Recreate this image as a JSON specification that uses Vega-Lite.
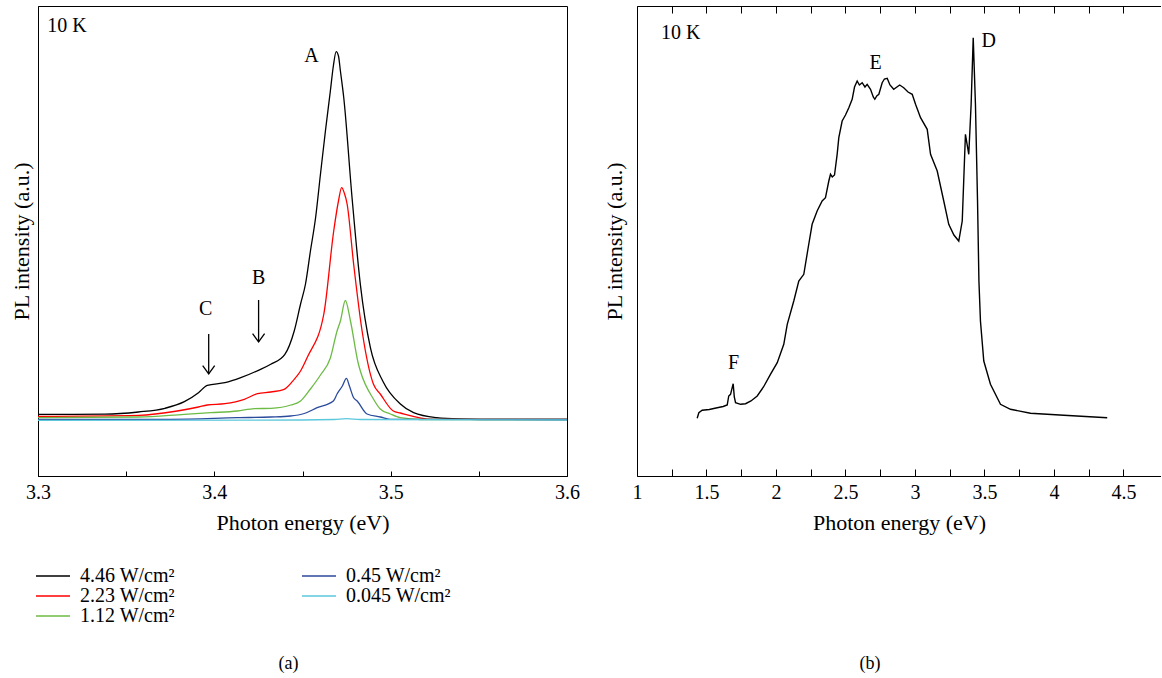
{
  "$schema": "https://vega.github.io/schema/vega-lite/v6.json",
  "padding": {"left": 9, "top": 5, "right": 0, "bottom": 0},
  "background": "white",
  "config": {
    "font": "Liberation Serif",
    "view": {"stroke": "#000000", "strokeWidth": 1, "strokeOpacity": 1},
    "axis": {"grid": false, "domainColor": "#000000", "domainWidth": 1, "domainOpacity": 1, "tickColor": "#000000", "tickWidth": 1, "labelColor": "black", "titleColor": "black", "labelFont": "Liberation Serif", "titleFont": "Liberation Serif", "titleFontWeight": "normal", "labelFontSize": 20, "titleFontSize": 22},
    "legend": {"labelFont": "Liberation Serif", "labelFontSize": 20, "labelColor": "black"},
    "title": {"font": "Liberation Serif", "fontWeight": "normal", "fontSize": 18, "color": "black"}
  },
  "datasets": {
    "a": [
      {"p": "4.46 W/cm²", "E": 3.300, "I": 62.7}, {"p": "4.46 W/cm²", "E": 3.320, "I": 62.7}, {"p": "4.46 W/cm²", "E": 3.338, "I": 62.8}, {"p": "4.46 W/cm²", "E": 3.357, "I": 65.0}, {"p": "4.46 W/cm²", "E": 3.372, "I": 68.7}, {"p": "4.46 W/cm²", "E": 3.383, "I": 75.3}, {"p": "4.46 W/cm²", "E": 3.391, "I": 84.3}, {"p": "4.46 W/cm²", "E": 3.396, "I": 91.7}, {"p": "4.46 W/cm²", "E": 3.406, "I": 94.3}, {"p": "4.46 W/cm²", "E": 3.415, "I": 99.3}, {"p": "4.46 W/cm²", "E": 3.425, "I": 106.7}, {"p": "4.46 W/cm²", "E": 3.432, "I": 112.7}, {"p": "4.46 W/cm²", "E": 3.440, "I": 122.7}, {"p": "4.46 W/cm²", "E": 3.4453, "I": 146}, {"p": "4.46 W/cm²", "E": 3.4489, "I": 173}, {"p": "4.46 W/cm²", "E": 3.4517, "I": 193}, {"p": "4.46 W/cm²", "E": 3.4545, "I": 226}, {"p": "4.46 W/cm²", "E": 3.4574, "I": 259}, {"p": "4.46 W/cm²", "E": 3.4602, "I": 303}, {"p": "4.46 W/cm²", "E": 3.4630, "I": 346}, {"p": "4.46 W/cm²", "E": 3.4658, "I": 386}, {"p": "4.46 W/cm²", "E": 3.4675, "I": 411}, {"p": "4.46 W/cm²", "E": 3.4691, "I": 425.3}, {"p": "4.46 W/cm²", "E": 3.4704, "I": 421}, {"p": "4.46 W/cm²", "E": 3.4715, "I": 406}, {"p": "4.46 W/cm²", "E": 3.4734, "I": 379.3}, {"p": "4.46 W/cm²", "E": 3.4781, "I": 279.3}, {"p": "4.46 W/cm²", "E": 3.4828, "I": 192.7}, {"p": "4.46 W/cm²", "E": 3.4885, "I": 129.3}, {"p": "4.46 W/cm²", "E": 3.4958, "I": 95}, {"p": "4.46 W/cm²", "E": 3.5055, "I": 73}, {"p": "4.46 W/cm²", "E": 3.513, "I": 64.3}, {"p": "4.46 W/cm²", "E": 3.526, "I": 59.3}, {"p": "4.46 W/cm²", "E": 3.539, "I": 58}, {"p": "4.46 W/cm²", "E": 3.562, "I": 57.5}, {"p": "4.46 W/cm²", "E": 3.600, "I": 57.5},
      {"p": "2.23 W/cm²", "E": 3.300, "I": 60.7}, {"p": "2.23 W/cm²", "E": 3.357, "I": 61.7}, {"p": "2.23 W/cm²", "E": 3.379, "I": 66}, {"p": "2.23 W/cm²", "E": 3.391, "I": 70}, {"p": "2.23 W/cm²", "E": 3.396, "I": 72}, {"p": "2.23 W/cm²", "E": 3.406, "I": 73.3}, {"p": "2.23 W/cm²", "E": 3.417, "I": 77.7}, {"p": "2.23 W/cm²", "E": 3.4245, "I": 83.3}, {"p": "2.23 W/cm²", "E": 3.432, "I": 85}, {"p": "2.23 W/cm²", "E": 3.4396, "I": 87.7}, {"p": "2.23 W/cm²", "E": 3.4453, "I": 97.7}, {"p": "2.23 W/cm²", "E": 3.4489, "I": 106}, {"p": "2.23 W/cm²", "E": 3.4528, "I": 120}, {"p": "2.23 W/cm²", "E": 3.4621, "I": 163}, {"p": "2.23 W/cm²", "E": 3.4677, "I": 246}, {"p": "2.23 W/cm²", "E": 3.4704, "I": 276}, {"p": "2.23 W/cm²", "E": 3.4722, "I": 289.3}, {"p": "2.23 W/cm²", "E": 3.4737, "I": 284}, {"p": "2.23 W/cm²", "E": 3.4753, "I": 273}, {"p": "2.23 W/cm²", "E": 3.479, "I": 213}, {"p": "2.23 W/cm²", "E": 3.4838, "I": 146}, {"p": "2.23 W/cm²", "E": 3.4902, "I": 93}, {"p": "2.23 W/cm²", "E": 3.4941, "I": 83}, {"p": "2.23 W/cm²", "E": 3.5015, "I": 66}, {"p": "2.23 W/cm²", "E": 3.5055, "I": 64}, {"p": "2.23 W/cm²", "E": 3.524, "I": 57.7}, {"p": "2.23 W/cm²", "E": 3.600, "I": 57.5},
      {"p": "1.12 W/cm²", "E": 3.300, "I": 59.3}, {"p": "1.12 W/cm²", "E": 3.357, "I": 60}, {"p": "1.12 W/cm²", "E": 3.383, "I": 62.7}, {"p": "1.12 W/cm²", "E": 3.398, "I": 64.3}, {"p": "1.12 W/cm²", "E": 3.413, "I": 66}, {"p": "1.12 W/cm²", "E": 3.4227, "I": 68.3}, {"p": "1.12 W/cm²", "E": 3.4321, "I": 68.7}, {"p": "1.12 W/cm²", "E": 3.4434, "I": 72}, {"p": "1.12 W/cm²", "E": 3.4489, "I": 76}, {"p": "1.12 W/cm²", "E": 3.4545, "I": 88}, {"p": "1.12 W/cm²", "E": 3.4602, "I": 102}, {"p": "1.12 W/cm²", "E": 3.4658, "I": 119}, {"p": "1.12 W/cm²", "E": 3.4696, "I": 146}, {"p": "1.12 W/cm²", "E": 3.4715, "I": 156}, {"p": "1.12 W/cm²", "E": 3.4743, "I": 176.5}, {"p": "1.12 W/cm²", "E": 3.4772, "I": 156}, {"p": "1.12 W/cm²", "E": 3.4817, "I": 113}, {"p": "1.12 W/cm²", "E": 3.4828, "I": 106}, {"p": "1.12 W/cm²", "E": 3.4902, "I": 78}, {"p": "1.12 W/cm²", "E": 3.4941, "I": 68}, {"p": "1.12 W/cm²", "E": 3.4998, "I": 63}, {"p": "1.12 W/cm²", "E": 3.5055, "I": 59.3}, {"p": "1.12 W/cm²", "E": 3.517, "I": 57.5}, {"p": "1.12 W/cm²", "E": 3.600, "I": 57.5},
      {"p": "0.45 W/cm²", "E": 3.300, "I": 57.7}, {"p": "0.45 W/cm²", "E": 3.3755, "I": 57.7}, {"p": "0.45 W/cm²", "E": 3.4132, "I": 59.3}, {"p": "0.45 W/cm²", "E": 3.432, "I": 60}, {"p": "0.45 W/cm²", "E": 3.4432, "I": 61}, {"p": "0.45 W/cm²", "E": 3.451, "I": 63.5}, {"p": "0.45 W/cm²", "E": 3.4583, "I": 69.3}, {"p": "0.45 W/cm²", "E": 3.4675, "I": 76}, {"p": "0.45 W/cm²", "E": 3.4696, "I": 83}, {"p": "0.45 W/cm²", "E": 3.4726, "I": 91}, {"p": "0.45 W/cm²", "E": 3.4749, "I": 98.7}, {"p": "0.45 W/cm²", "E": 3.4766, "I": 91}, {"p": "0.45 W/cm²", "E": 3.479, "I": 79.3}, {"p": "0.45 W/cm²", "E": 3.481, "I": 76}, {"p": "0.45 W/cm²", "E": 3.4866, "I": 63}, {"p": "0.45 W/cm²", "E": 3.4941, "I": 60}, {"p": "0.45 W/cm²", "E": 3.4998, "I": 57.7}, {"p": "0.45 W/cm²", "E": 3.600, "I": 57.5},
      {"p": "0.045 W/cm²", "E": 3.300, "I": 56.7}, {"p": "0.045 W/cm²", "E": 3.449, "I": 57}, {"p": "0.045 W/cm²", "E": 3.468, "I": 57.5}, {"p": "0.045 W/cm²", "E": 3.4749, "I": 58.3}, {"p": "0.045 W/cm²", "E": 3.4828, "I": 57.5}, {"p": "0.045 W/cm²", "E": 3.600, "I": 57}
    ],
    "b": [
      {"E": 1.433, "I": 58.7}, {"E": 1.445, "I": 64.3}, {"E": 1.469, "I": 66.7}, {"E": 1.52, "I": 67.5}, {"E": 1.577, "I": 69.3}, {"E": 1.62, "I": 70.5}, {"E": 1.649, "I": 72}, {"E": 1.660, "I": 81}, {"E": 1.673, "I": 82.7}, {"E": 1.692, "I": 93.3}, {"E": 1.700, "I": 80}, {"E": 1.709, "I": 74.3}, {"E": 1.745, "I": 72.7}, {"E": 1.781, "I": 73.3}, {"E": 1.82, "I": 76}, {"E": 1.865, "I": 81}, {"E": 1.91, "I": 90}, {"E": 1.960, "I": 102.7}, {"E": 2.009, "I": 114.3}, {"E": 2.056, "I": 132.7}, {"E": 2.081, "I": 152.7}, {"E": 2.128, "I": 176}, {"E": 2.164, "I": 196}, {"E": 2.200, "I": 202.7}, {"E": 2.230, "I": 228}, {"E": 2.260, "I": 252.7}, {"E": 2.296, "I": 266}, {"E": 2.332, "I": 276}, {"E": 2.356, "I": 279.3}, {"E": 2.380, "I": 296}, {"E": 2.392, "I": 302.7}, {"E": 2.405, "I": 300}, {"E": 2.421, "I": 302}, {"E": 2.440, "I": 322.7}, {"E": 2.452, "I": 339.3}, {"E": 2.476, "I": 356}, {"E": 2.50, "I": 362}, {"E": 2.524, "I": 369.3}, {"E": 2.548, "I": 377.7}, {"E": 2.565, "I": 390}, {"E": 2.584, "I": 396}, {"E": 2.600, "I": 392}, {"E": 2.620, "I": 394.3}, {"E": 2.640, "I": 390}, {"E": 2.656, "I": 392.7}, {"E": 2.680, "I": 387.7}, {"E": 2.700, "I": 380}, {"E": 2.711, "I": 377.7}, {"E": 2.725, "I": 381}, {"E": 2.740, "I": 382.7}, {"E": 2.764, "I": 394.3}, {"E": 2.780, "I": 398}, {"E": 2.800, "I": 398.7}, {"E": 2.820, "I": 392}, {"E": 2.847, "I": 387.7}, {"E": 2.870, "I": 390}, {"E": 2.890, "I": 392}, {"E": 2.919, "I": 389.3}, {"E": 2.950, "I": 385}, {"E": 2.980, "I": 382.7}, {"E": 3.004, "I": 372.7}, {"E": 3.040, "I": 359.3}, {"E": 3.088, "I": 347.7}, {"E": 3.112, "I": 322.7}, {"E": 3.160, "I": 306}, {"E": 3.207, "I": 276}, {"E": 3.243, "I": 252.7}, {"E": 3.280, "I": 242}, {"E": 3.315, "I": 236}, {"E": 3.340, "I": 256}, {"E": 3.363, "I": 342.7}, {"E": 3.387, "I": 322.7}, {"E": 3.404, "I": 372.7}, {"E": 3.419, "I": 439.3}, {"E": 3.435, "I": 372.7}, {"E": 3.450, "I": 276}, {"E": 3.460, "I": 196}, {"E": 3.471, "I": 156}, {"E": 3.495, "I": 116}, {"E": 3.543, "I": 92.7}, {"E": 3.615, "I": 72.7}, {"E": 3.687, "I": 67.7}, {"E": 3.831, "I": 63.7}, {"E": 4.071, "I": 61.7}, {"E": 4.383, "I": 59.3}
    ],
    "labA": [
      {"E": 3.3164, "I": 451, "t": "10 K"},
      {"E": 3.4551, "I": 421, "t": "A"},
      {"E": 3.4251, "I": 199, "t": "B"},
      {"E": 3.3951, "I": 168, "t": "C"}
    ],
    "arrA": [
      {"E": 3.4251, "I": 177, "I2": 135},
      {"E": 3.3968, "I": 143, "I2": 103}
    ],
    "labB": [
      {"E": 1.314, "I": 444, "t": "10 K"},
      {"E": 3.530, "I": 436, "t": "D"},
      {"E": 2.716, "I": 414, "t": "E"},
      {"E": 1.694, "I": 114, "t": "F"}
    ]
  },
  "hconcat": [
    {
      "width": 529,
      "height": 470,
      "view": {"stroke": "#000000", "strokeWidth": 1},
      "title": {"text": "(a)", "orient": "bottom", "offset": 122, "anchor": "middle", "dx": -14},
      "layer": [
        {
          "data": {"name": "a"},
          "mark": {"type": "line", "strokeWidth": 1.3, "interpolate": "monotone"},
          "encoding": {
            "x": {"field": "E", "type": "quantitative", "scale": {"domain": [3.3, 3.6], "nice": false, "zero": false},
                  "axis": {"title": "Photon energy (eV)", "domain": true, "values": [3.3, 3.35, 3.4, 3.45, 3.5, 3.55, 3.6], "tickSize": -5, "labelPadding": 11, "titlePadding": 10, "labelExpr": "abs(round(datum.value*20) % 2) == 0 ? format(datum.value, '.1f') : ''", "labelFlush": false}},
            "y": {"field": "I", "type": "quantitative", "scale": {"domain": [1, 471], "nice": false, "zero": false},
                  "axis": {"title": "PL intensity (a.u.)", "domain": true, "ticks": false, "labels": false, "titlePadding": 5}},
            "color": {"field": "p", "type": "nominal",
                      "scale": {"domain": ["4.46 W/cm²", "2.23 W/cm²", "1.12 W/cm²", "0.45 W/cm²", "0.045 W/cm²"], "range": ["#000000", "#ff0000", "#6cbb45", "#2a4a9c", "#5cc8dc"]},
                      "legend": {"title": null, "orient": "none", "legendX": 5, "legendY": 560, "columns": 2, "columnPadding": 124, "rowPadding": 0, "symbolType": "M-2,0H2", "symbolSize": 289, "symbolStrokeWidth": 1.3, "symbolFillColor": "transparent", "labelOffset": 17, "labelLimit": 300}}
          }
        },
        {
          "data": {"name": "labA"},
          "mark": {"type": "text", "fontSize": 20, "baseline": "middle", "align": "center", "color": "black"},
          "encoding": {
            "x": {"field": "E", "type": "quantitative"},
            "y": {"field": "I", "type": "quantitative"},
            "text": {"field": "t"}
          }
        },
        {
          "data": {"name": "arrA"},
          "mark": {"type": "rule", "color": "black", "strokeWidth": 1.3},
          "encoding": {
            "x": {"field": "E", "type": "quantitative"},
            "y": {"field": "I", "type": "quantitative"},
            "y2": {"field": "I2"}
          }
        },
        {
          "data": {"name": "arrA"},
          "mark": {"type": "point", "shape": "M-1,-1.4L0,0L1,-1.4", "size": 144, "filled": false, "color": "black", "strokeWidth": 1.3, "opacity": 1},
          "encoding": {
            "x": {"field": "E", "type": "quantitative"},
            "y": {"field": "I2", "type": "quantitative"}
          }
        }
      ]
    },
    {
      "width": 524,
      "height": 470,
      "view": {"stroke": null},
      "title": {"text": "(b)", "orient": "bottom", "offset": 122, "anchor": "middle", "dx": -29},
      "resolve": {"axis": {"x": "independent"}},
      "layer": [
        {
          "data": {"name": "b"},
          "mark": {"type": "line", "strokeWidth": 1.4, "color": "black"},
          "encoding": {
            "x": {"field": "E", "type": "quantitative", "scale": {"domain": [1, 4.77], "nice": false, "zero": false},
                  "axis": {"title": "Photon energy (eV)", "domain": true, "values": [1, 1.25, 1.5, 1.75, 2, 2.25, 2.5, 2.75, 3, 3.25, 3.5, 3.75, 4, 4.25, 4.5], "tickSize": -7, "labelPadding": 13, "titlePadding": 10, "labelExpr": "abs(round(datum.value*4) % 2) == 0 ? format(datum.value, '~g') : ''", "labelFlush": false}},
            "y": {"field": "I", "type": "quantitative", "scale": {"domain": [1, 471], "nice": false, "zero": false},
                  "axis": {"title": "PL intensity (a.u.)", "domain": true, "ticks": false, "labels": false, "titlePadding": 11}}
          }
        },
        {
          "data": {"name": "labB"},
          "mark": {"type": "text", "fontSize": 20, "baseline": "middle", "align": "center", "color": "black"},
          "encoding": {
            "x": {"field": "E", "type": "quantitative",
                  "axis": {"orient": "top", "title": null, "domain": true, "labels": false, "values": [1, 1.25, 1.5, 1.75, 2, 2.25, 2.5, 2.75, 3, 3.25, 3.5, 3.75, 4, 4.25, 4.5], "tickSize": -7}},
            "y": {"field": "I", "type": "quantitative"},
            "text": {"field": "t"}
          }
        }
      ]
    }
  ],
  "spacing": 23
}
